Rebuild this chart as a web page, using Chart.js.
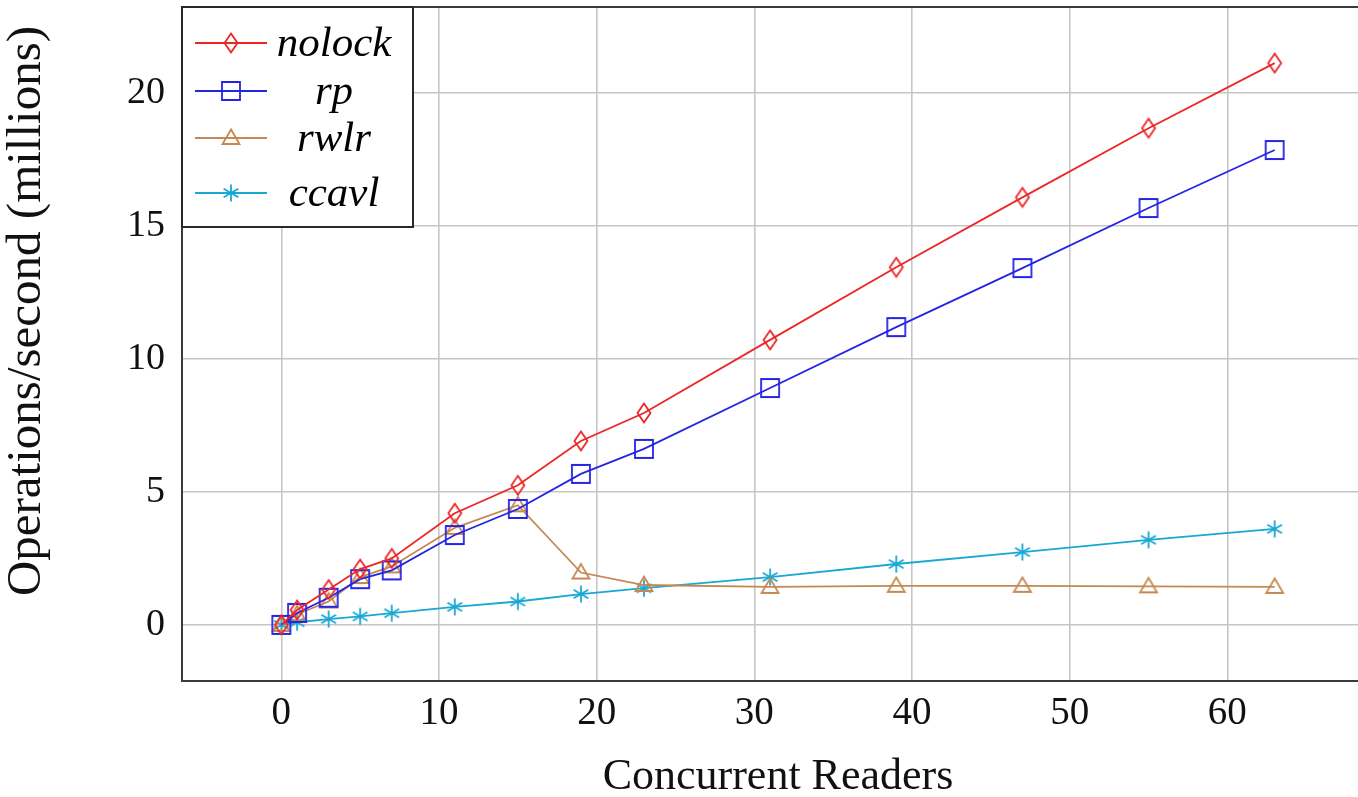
<!DOCTYPE html>
<html>
<head>
<meta charset="utf-8">
<script src="https://cdn.jsdelivr.net/npm/chart.js@4.4.0/dist/chart.umd.min.js"></script>
<style>
html,body{margin:0;padding:0;background:#fff;overflow:hidden;width:1358px;height:797px}
#wrap{position:absolute;left:0;top:0;width:1400px;height:797px}
canvas{display:block}
</style>
</head>
<body>
<div id="wrap"><canvas id="c" width="1400" height="797"></canvas></div>
<script>
// ---- data ----
const readers = [0, 1, 3, 5, 7, 11, 15, 19, 23, 31, 39, 47, 55, 63];
const nolock = [0, 0.56, 1.33, 2.1, 2.5, 4.2, 5.25, 6.92, 7.97, 10.72, 13.45, 16.08, 18.68, 21.13];
const rp     = [0, 0.45, 1.02, 1.72, 2.05, 3.38, 4.36, 5.68, 6.62, 8.91, 11.2, 13.42, 15.68, 17.86];
const rwlr   = [0, 0.4, 0.88, 1.8, 2.2, 3.65, 4.5, 1.97, 1.5, 1.43, 1.47, 1.47, 1.45, 1.43];
const ccavl  = [0, 0.1, 0.22, 0.32, 0.44, 0.68, 0.88, 1.16, 1.38, 1.8, 2.29, 2.74, 3.2, 3.61];
const seriesNames = ['nolock', 'rp', 'rwlr', 'ccavl'];
const xTickValues = [0, 10, 20, 30, 40, 50, 60];
const yTickValues = [0, 5, 10, 15, 20];
const xTitle = 'Concurrent Readers';
const yTitle = 'Operations/second (millions)';

// ---- styles ----
const colors = ['rgb(236,38,38)', 'rgb(36,36,228)', 'rgb(196,136,80)', 'rgb(24,168,212)'];

function makeMarker(shape, color) {
  const c = document.createElement('canvas');
  c.width = 26; c.height = 26;
  const g = c.getContext('2d');
  g.strokeStyle = color; g.lineWidth = 1.8;
  const cx = 13, cy = 13;
  g.beginPath();
  if (shape === 'diamond') {
    g.moveTo(cx, cy - 9.5); g.lineTo(cx + 6.5, cy); g.lineTo(cx, cy + 9.5); g.lineTo(cx - 6.5, cy); g.closePath();
  } else if (shape === 'square') {
    g.rect(cx - 9, cy - 9, 18, 18);
  } else if (shape === 'triangle') {
    g.moveTo(cx, cy - 8.5); g.lineTo(cx + 8.5, cy + 6); g.lineTo(cx - 8.5, cy + 6); g.closePath();
  } else if (shape === 'asterisk') {
    for (let k = 0; k < 3; k++) {
      const a = Math.PI / 2 + k * Math.PI / 3;
      g.moveTo(cx + 8.5 * Math.cos(a), cy + 8.5 * Math.sin(a));
      g.lineTo(cx - 8.5 * Math.cos(a), cy - 8.5 * Math.sin(a));
    }
  }
  g.stroke();
  return c;
}
const markers = [
  makeMarker('diamond', colors[0]),
  makeMarker('square', colors[1]),
  makeMarker('triangle', colors[2]),
  makeMarker('asterisk', colors[3])
];

const seriesValues = [nolock, rp, rwlr, ccavl];
const datasets = seriesValues.map((vals, i) => ({
  label: seriesNames[i],
  data: readers.map((x, j) => ({x: x, y: vals[j]})),
  borderColor: colors[i],
  backgroundColor: colors[i],
  borderWidth: 1.8,
  pointStyle: markers[i],
  pointRadius: 9,
  tension: 0,
  fill: false
}));

const serif = "'Liberation Serif', 'Times New Roman', serif";

const frameAndLegend = {
  id: 'frameAndLegend',
  afterDatasetsDraw(chart) {
    const a = chart.chartArea, ctx = chart.ctx;
    ctx.save();
    ctx.strokeStyle = 'rgb(60,60,60)';
    ctx.lineWidth = 2;
    ctx.strokeRect(a.left, a.top, a.right - a.left, a.bottom - a.top);
    ctx.restore();
  },
  afterDraw(chart) {
    const a = chart.chartArea, ctx = chart.ctx;
    // y axis title
    ctx.save();
    ctx.translate(27, 311);
    ctx.rotate(-Math.PI / 2);
    ctx.fillStyle = '#111';
    ctx.font = "49px " + serif;
    ctx.textAlign = 'center';
    ctx.textBaseline = 'middle';
    ctx.fillText(yTitle, 0, 0);
    ctx.restore();
    // legend
    const L = a.left, T = a.top;
    const W = 231, H = 220;
    ctx.save();
    ctx.fillStyle = '#fff';
    ctx.fillRect(L, T, W, H);
    ctx.strokeStyle = 'rgb(40,40,40)';
    ctx.lineWidth = 2;
    ctx.strokeRect(L, T, W, H);
    const rows = [36, 84, 131, 186];
    chart.data.datasets.forEach((ds, i) => {
      const y = T + rows[i];
      ctx.strokeStyle = ds.borderColor;
      ctx.lineWidth = 1.8;
      ctx.beginPath();
      ctx.moveTo(L + 13, y); ctx.lineTo(L + 85, y);
      ctx.stroke();
      const m = ds.pointStyle;
      ctx.drawImage(m, Math.round(L + 49 - m.width / 2), Math.round(y - m.height / 2));
      ctx.fillStyle = '#000';
      ctx.font = "italic 43px " + serif;
      ctx.textAlign = 'center';
      ctx.textBaseline = 'alphabetic';
      ctx.fillText(ds.label, L + 152, y + 13);
    });
    ctx.restore();
  }
};

new Chart(document.getElementById('c'), {
  type: 'line',
  data: {datasets: datasets},
  plugins: [frameAndLegend],
  options: {
    responsive: false,
    animation: false,
    devicePixelRatio: 1,
    layout: {autoPadding: false, padding: {left: 0, right: 26, top: 7, bottom: 0}},
    plugins: {legend: {display: false}, tooltip: {enabled: false}},
    scales: {
      x: {
        type: 'linear',
        min: -6.3,
        max: 69.3,
        afterBuildTicks: s => { s.ticks = xTickValues.map(v => ({value: v})); },
        afterFit: s => { s.height = 116; s.paddingLeft = 0; s.paddingRight = 0; },
        grid: {color: 'rgb(198,198,198)', lineWidth: 1.6, drawTicks: false},
        border: {display: false},
        ticks: {padding: 9, autoSkip: false, maxRotation: 0, color: '#111',
                font: {family: serif, size: 39}},
        title: {display: true, text: xTitle, color: '#111',
                font: {family: serif, size: 44, lineHeight: 0.9}, padding: 0}
      },
      y: {
        type: 'linear',
        min: -2.11,
        max: 23.24,
        afterBuildTicks: s => { s.ticks = yTickValues.map(v => ({value: v})); },
        afterFit: s => { s.width = 182; s.paddingTop = 0; s.paddingBottom = 0; },
        grid: {color: 'rgb(198,198,198)', lineWidth: 1.6, drawTicks: false},
        border: {display: false},
        ticks: {padding: 17, color: '#111', font: {family: serif, size: 38}},
        title: {display: false, text: yTitle}
      }
    }
  }
});
</script>
</body>
</html>
